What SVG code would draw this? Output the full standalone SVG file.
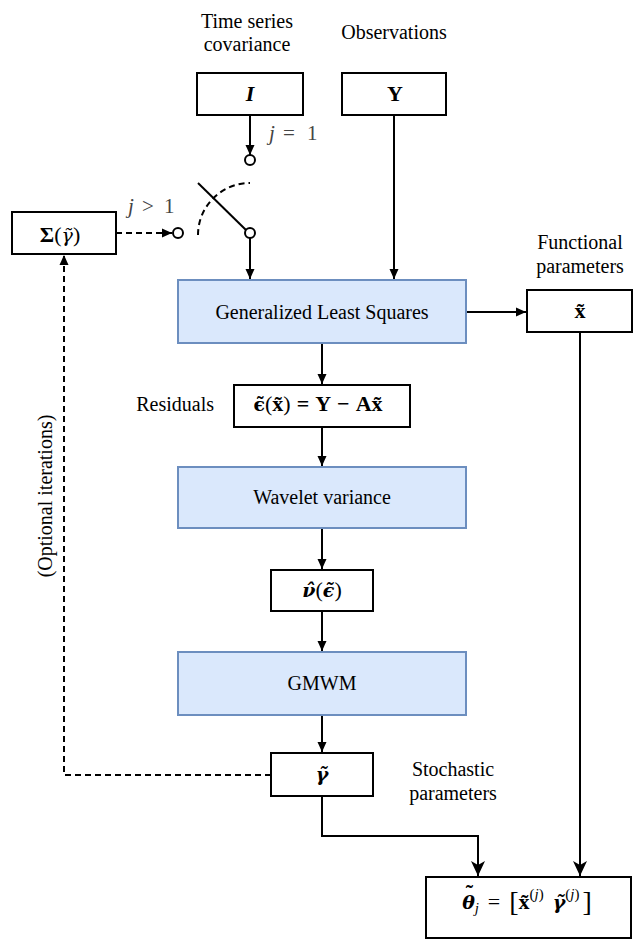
<svg xmlns="http://www.w3.org/2000/svg" width="633" height="940" viewBox="0 0 633 940">
<style>
text{font-family:"Liberation Serif","Times New Roman",serif;font-size:20px;fill:#000}
.c{text-anchor:middle}
.f{font-size:22px}
.big{font-size:22px}
.b{font-weight:bold}
.n{font-weight:normal}
.i{font-style:italic}
.gr{font-family:"DejaVu Serif",serif;font-size:19px}
.g{fill:#444;font-size:21px}
.sup{font-size:15px;font-weight:normal}
.br{font-size:28px;font-weight:normal}
.box{fill:#fff;stroke:#000;stroke-width:2}
.blue{fill:#dae8fc;stroke:#6c8ebf;stroke-width:2}
.ln{fill:none;stroke:#000;stroke-width:2}
.dash{fill:none;stroke:#000;stroke-width:2;stroke-dasharray:6 4}
.sw{fill:#fff;stroke:#000;stroke-width:2}
</style>
<defs>
<marker id="ah" markerUnits="userSpaceOnUse" markerWidth="12" markerHeight="12" viewBox="0 0 12 12" refX="11" refY="6" orient="auto">
<path d="M1,1.5 L11,6 L1,10.5 Z" fill="#000"/>
</marker>
<marker id="ah2" markerUnits="userSpaceOnUse" markerWidth="16" markerHeight="16" viewBox="0 0 16 16" refX="15" refY="8" orient="auto">
<path d="M0,1 L15,8 L0,15 L4,8 Z" fill="#000"/>
</marker>
</defs>

<g id="labels">
<text class="c" x="247" y="28">Time series</text>
<text class="c" x="247" y="51">covariance</text>
<text class="c" x="394" y="39">Observations</text>
<text class="c" x="580" y="249">Functional</text>
<text class="c" x="580" y="273">parameters</text>
<text x="214" y="411" text-anchor="end">Residuals</text>
<text class="c" x="453" y="776">Stochastic</text>
<text class="c" x="453" y="800">parameters</text>
<text class="c" transform="translate(52,496) rotate(-90)">(Optional iterations)</text>
<text class="g"><tspan class="i" x="269" y="140">j</tspan><tspan x="283" y="140">=</tspan><tspan x="307" y="140">1</tspan></text>
<text class="g"><tspan class="i" x="128" y="213">j</tspan><tspan x="142" y="213">&gt;</tspan><tspan x="164" y="213">1</tspan></text>
</g>

<g id="connectors">
<line class="ln" x1="250" y1="115" x2="250" y2="155" marker-end="url(#ah)"/>
<line class="ln" x1="394" y1="115" x2="394" y2="279" marker-end="url(#ah)"/>
<line class="ln" x1="250" y1="238" x2="250" y2="279" marker-end="url(#ah)"/>
<line class="ln" x1="198" y1="183" x2="246" y2="230"/>
<path class="dash" d="M198,235 A52,52 0 0 1 250,183"/>
<line class="dash" x1="116" y1="233" x2="172" y2="233" marker-end="url(#ah)"/>
<line class="ln" x1="466" y1="312" x2="526" y2="312" marker-end="url(#ah)"/>
<line class="ln" x1="322" y1="343" x2="322" y2="384" marker-end="url(#ah)"/>
<line class="ln" x1="322" y1="427" x2="322" y2="466" marker-end="url(#ah)"/>
<line class="ln" x1="322" y1="528" x2="322" y2="569" marker-end="url(#ah)"/>
<line class="ln" x1="322" y1="611" x2="322" y2="651" marker-end="url(#ah)"/>
<line class="ln" x1="322" y1="715" x2="322" y2="752" marker-end="url(#ah)"/>
<path class="dash" d="M271,775 H64 V255" marker-end="url(#ah)"/>
<path class="ln" d="M322,796 V836 H478 V876" marker-end="url(#ah2)"/>
<line class="ln" x1="580" y1="332" x2="580" y2="876" marker-end="url(#ah2)"/>
<circle class="sw" cx="250" cy="160" r="5"/>
<circle class="sw" cx="250" cy="233" r="5"/>
<circle class="sw" cx="178" cy="233" r="5"/>
</g>

<g id="node-I">
<rect class="box" x="197" y="73" width="106" height="42"/>
<text class="c big b i" x="250" y="101">I</text>
</g>
<g id="node-Y">
<rect class="box" x="342" y="73" width="104" height="42"/>
<text class="c big b" x="395" y="101">Y</text>
</g>
<g id="node-Sigma">
<rect class="box" x="12" y="212" width="104" height="42"/>
<text class="c f" x="60" y="242"><tspan class="b">Σ</tspan>(<tspan class="gr i">γ̃</tspan>)</text>
</g>
<g id="node-GLS">
<rect class="blue" x="178" y="280" width="288" height="63"/>
<text class="c" x="322" y="319">Generalized Least Squares</text>
</g>
<g id="node-x">
<rect class="box" x="527" y="290" width="105" height="42"/>
<text class="c f b" x="580" y="318">x̃</text>
</g>
<g id="node-residuals">
<rect class="box" x="234" y="385" width="176" height="42"/>
<text class="c f b" x="318" y="411"><tspan class="gr">ϵ̃</tspan><tspan class="n">(</tspan>x̃<tspan class="n">)</tspan><tspan dx="6">=</tspan><tspan dx="6">Y</tspan><tspan dx="6">−</tspan><tspan dx="6">Ax̃</tspan></text>
</g>
<g id="node-wavelet">
<rect class="blue" x="178" y="467" width="288" height="61"/>
<text class="c" x="322" y="504">Wavelet variance</text>
</g>
<g id="node-nu">
<rect class="box" x="271" y="570" width="102" height="41"/>
<text class="c f b" x="322" y="597"><tspan class="gr i">ν̂</tspan><tspan class="n">(</tspan><tspan class="gr i">ϵ̃</tspan><tspan class="n">)</tspan></text>
</g>
<g id="node-GMWM">
<rect class="blue" x="178" y="652" width="288" height="63"/>
<text class="c" x="322" y="690">GMWM</text>
</g>
<g id="node-gamma">
<rect class="box" x="271" y="753" width="102" height="43"/>
<text class="c f b" x="322" y="781"><tspan class="gr i">γ̃</tspan></text>
</g>
<g id="node-theta">
<rect class="box" x="426" y="877" width="205" height="61"/>
<text class="c f" x="527" y="909"><tspan class="gr b i">θ</tspan><tspan class="b" dx="-9" dy="-9">˜</tspan><tspan class="i sup" dx="1.5" dy="13">j</tspan><tspan dx="9" dy="-4">=</tspan><tspan class="br" dx="9" dy="2">[</tspan><tspan class="b" dy="-2">x̃</tspan><tspan class="sup" dy="-10">(</tspan><tspan class="sup i">j</tspan><tspan class="sup">)</tspan><tspan class="gr b i" dx="9" dy="10">γ̃</tspan><tspan class="sup" dy="-10">(</tspan><tspan class="sup i">j</tspan><tspan class="sup">)</tspan><tspan class="br" dx="3" dy="12">]</tspan></text>
</g>
</svg>
